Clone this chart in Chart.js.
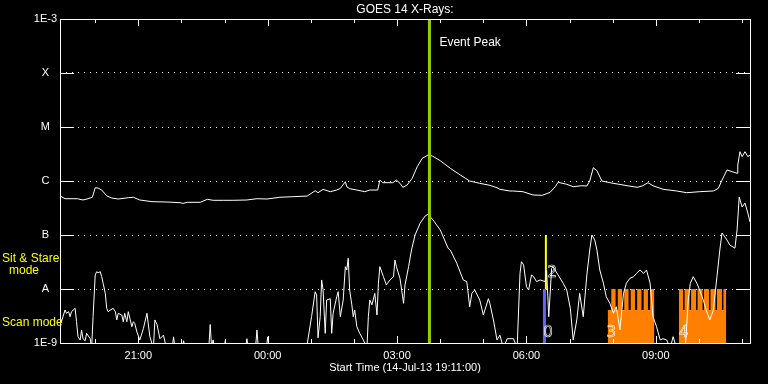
<!DOCTYPE html>
<html>
<head>
<meta charset="utf-8">
<script src="https://cdn.jsdelivr.net/npm/chart.js@4/dist/chart.umd.min.js"></script>
<style>
html, body { margin: 0; padding: 0; background: #000; }
canvas { display: block; }
</style>
</head>
<body>
<canvas id="xrayChart" width="768" height="384"></canvas>
<script>
// time axis: minutes after 14-Jul-13 19:11:00
const xTickMinutes = [49, 109, 169, 229, 289, 349, 409, 469, 529, 589, 649, 709, 769, 829, 889, 949];
const xTickLabels = ['', '21:00', '', '', '00:00', '', '', '03:00', '', '', '06:00', '', '', '09:00', '', ''];

// flux axis (W/m^2), GOES classes
const yTickValues = [1e-9, 1e-8, 1e-7, 1e-6, 1e-5, 1e-4, 1e-3];
const yTickLabels = ['1E-9', 'A', 'B', 'C', 'M', 'X', '1E-3'];

// long channel (1-8 A)
const longMin = [0, 7, 24, 32, 39, 45, 49, 53, 58, 65, 72, 81, 95, 102, 111, 128, 149, 167, 171, 177,
  195, 205, 213, 227, 241, 260, 274, 288, 306, 324, 344, 355, 359, 366, 376, 385, 390, 397, 399, 403,
  413, 424, 431, 442, 445, 449, 463, 468, 473, 477, 483, 490, 497, 504, 512, 518, 529, 543, 557, 570,
  584, 598, 608, 612, 626, 630, 644, 658, 671, 682, 689, 693, 705, 714, 726, 733, 737, 742, 747, 754,
  765, 789, 803, 811, 818, 825, 839, 858, 872, 890, 909, 916, 921, 928, 935, 942, 943, 946, 949, 953, 957, 960];
const longFlux = [5.3e-7, 4.7e-7, 4.7e-7, 4.45e-7, 4.7e-7, 5.0e-7, 7.5e-7, 7.4e-7, 6.8e-7, 5.3e-7, 4.84e-7, 4.64e-7, 4.9e-7, 5.0e-7, 4.45e-7, 4.14e-7, 4.08e-7, 3.97e-7, 3.85e-7, 4.03e-7,
  4.03e-7, 4.58e-7, 4.39e-7, 4.39e-7, 4.39e-7, 4.45e-7, 4.7e-7, 4.64e-7, 5.0e-7, 5.12e-7, 5.27e-7, 6.6e-7, 6.07e-7, 7.0e-7, 6.34e-7, 6.8e-7, 7.3e-7, 9.7e-7, 7.84e-7, 7.2e-7,
  6.8e-7, 6.34e-7, 6.8e-7, 6.8e-7, 1.04e-6, 9.3e-7, 9.3e-7, 1.04e-6, 9.06e-7, 7.64e-7, 8.44e-7, 1.12e-6, 1.84e-6, 2.63e-6, 3.03e-6, 2.9e-6, 2.38e-6, 1.72e-6, 1.29e-6, 1.0e-6,
  9.06e-7, 8.32e-7, 7.5e-7, 7.02e-7, 6.53e-7, 6.53e-7, 6.34e-7, 5.51e-7, 5.43e-7, 6.18e-7, 7.84e-7, 9.46e-7, 8.7e-7, 7.84e-7, 8.18e-7, 8.07e-7, 1.0e-6, 1.76e-6, 1.55e-6, 1.0e-6,
  9.3e-7, 8.18e-7, 7.64e-7, 8.18e-7, 9.3e-7, 8.18e-7, 7.02e-7, 6.53e-7, 6.07e-7, 6.34e-7, 6.53e-7, 7.32e-7, 1.04e-6, 1.6e-6, 1.49e-6, 1.39e-6, 1.98e-6, 3.49e-6, 2.82e-6, 3.49e-6, 2.82e-6, 3.03e-6];

// short channel (0.5-4 A)
const shortMin = [0, 2, 7, 9, 12, 14, 16, 21, 23, 25, 28, 30, 32, 35, 37, 42, 44, 46, 49, 51, 53, 56, 58, 60, 63, 65, 67, 70, 74, 77,
  79, 81, 86, 88, 90, 93, 95, 100, 102, 104, 107, 111, 116, 121, 125, 130, 132, 135, 139, 144, 148, 156, 158, 160, 170, 172, 174, 207, 209, 211,
  213, 215, 228, 230, 232, 258, 260, 262, 272, 274, 276, 287, 289, 291, 343, 350, 355, 357, 359, 362, 364, 366, 369, 371, 376, 378, 380, 385, 387, 390,
  394, 397, 399, 401, 403, 406, 408, 410, 413, 417, 422, 427, 429, 431, 434, 438, 441, 443, 445, 450, 454, 459, 464, 466, 468, 473, 478, 480, 485, 489,
  494, 501, 508, 512, 519, 529, 540, 543, 552, 561, 566, 570, 573, 577, 584, 589, 596, 598, 603, 608, 612, 617, 622, 631, 636, 640, 642, 645, 649, 652,
  656, 659, 663, 668, 675, 677, 680, 684, 686, 693, 700, 705, 710, 714, 719, 723, 728, 733, 737, 740, 744, 747, 751, 756, 760, 765, 770, 774, 779, 784,
  788, 793, 798, 802, 807, 812, 816, 821, 825, 830, 835, 839, 844, 849, 853, 858, 870, 874, 877, 881, 886, 890, 895, 899, 904, 909, 914, 918, 921, 928,
  932, 939, 942, 945, 949, 953, 957, 960];
const shortFlux = [3.07e-9, 2.48e-9, 4.08e-9, 3.55e-9, 3.8e-9, 3.07e-9, 3.8e-9, 4.39e-9, 2.48e-9, 1.31e-9, 1.14e-9, 1.74e-9, 1.2e-9, 1.1e-9, 1.51e-9, 1.2e-9, 8e-10, 3.07e-9, 1.82e-8, 2.09e-8, 2.0e-8, 2.09e-8, 1.69e-8, 1.28e-8, 8.3e-9, 4.39e-9, 3.8e-9, 4.08e-9, 4.39e-9, 3.8e-9,
  2.67e-9, 3.55e-9, 3.3e-9, 2.48e-9, 3.55e-9, 2.48e-9, 3.8e-9, 2.0e-9, 2.48e-9, 2.3e-9, 1.6e-9, 1.14e-9, 1.85e-9, 3.55e-9, 1.31e-9, 8e-10, 2.67e-9, 2.2e-9, 1.2e-9, 1.4e-9, 8e-10, 8e-10, 1.3e-9, 8e-10, 8e-10, 1.1e-9, 8e-10, 8e-10, 2.2e-9, 8e-10,
  1.14e-9, 8e-10, 8e-10, 1.1e-9, 8e-10, 8e-10, 1.2e-9, 8e-10, 8e-10, 1.74e-9, 8e-10, 8e-10, 1.3e-9, 8e-10, 8e-10, 3.07e-9, 8.9e-9, 7.74e-9, 1.25e-9, 3.07e-9, 1.47e-8, 9.57e-9, 1.51e-9, 6.25e-9, 6.6e-9, 1.51e-9, 3.55e-9, 7.2e-9, 8.9e-9, 3.07e-9,
  6.25e-9, 2.59e-8, 2.25e-8, 3.71e-8, 9.57e-9, 5.1e-9, 3.07e-9, 4.08e-9, 2.0e-9, 1.51e-9, 1.14e-9, 8e-10, 3.07e-9, 6.25e-9, 5.1e-9, 8.3e-9, 3.3e-9, 1.28e-8, 2.59e-8, 1.69e-8, 1.19e-8, 1.47e-8, 1.69e-8, 3.44e-8, 2.59e-8, 1.58e-8, 5.43e-9, 1.19e-8, 2.59e-8, 5.27e-8,
  1.0e-7, 1.65e-7, 2.25e-7, 2.42e-7, 1.9e-7, 1.24e-7, 5.67e-8, 5.27e-8, 3.0e-8, 1.47e-8, 1.37e-8, 4.7e-9, 8.3e-9, 9.57e-9, 6.25e-9, 3.3e-9, 6.6e-9, 5.43e-9, 2.67e-9, 1.14e-9, 1.4e-9, 8e-10, 1.2e-9, 1.2e-9, 8e-10, 1.95e-8, 3.2e-8, 2.8e-8, 1.1e-8, 9.57e-9,
  1.82e-8, 1.69e-8, 1.37e-8, 1.47e-8, 1.37e-8, 2.25e-8, 3.07e-9, 2.42e-8, 2.59e-8, 1.82e-8, 1.28e-8, 9.57e-9, 4.39e-9, 1.14e-9, 2.67e-9, 8.3e-9, 3.07e-9, 1.82e-8, 5.27e-8, 1.0e-7, 8.07e-8, 5.27e-8, 2.25e-8, 1.28e-8, 7.2e-9, 5.43e-9, 3.55e-9, 4.7e-9, 1.74e-9, 8.3e-9,
  1.28e-8, 1.58e-8, 1.69e-8, 1.95e-8, 2.25e-8, 1.95e-8, 2.25e-8, 1.28e-8, 3.07e-9, 2.0e-9, 1.14e-9, 1.2e-9, 1.14e-9, 8e-10, 1.31e-9, 8e-10, 8e-10, 6.25e-9, 1.28e-8, 1.69e-8, 1.28e-8, 9.57e-9, 6.25e-9, 4.08e-9, 2.67e-9, 4.08e-9, 1.69e-8, 5.27e-8, 1.09e-7, 8.07e-8,
  6.5e-8, 5.7e-8, 1.24e-7, 5.06e-7, 3.3e-7, 3.9e-7, 2.55e-7, 1.74e-7];

// orange observing blocks (scan mode floor, sit & stare teeth)
const scan3Min = [762, 767, 773, 776, 782, 785, 791, 794, 800, 803, 809, 812, 818, 821, 827];
const scan3Flux = [4.1e-9, 1e-8, 4.1e-9, 1e-8, 4.1e-9, 1e-8, 4.1e-9, 1e-8, 4.1e-9, 1e-8, 4.1e-9, 1e-8, 4.1e-9, 1e-8, 1e-8];
const scan4Min = [861, 867, 869, 876, 878, 885, 887, 894, 896, 903, 905, 912, 914, 921, 923, 927];
const scan4Flux = [1e-8, 4.1e-9, 1e-8, 4.1e-9, 1e-8, 4.1e-9, 1e-8, 4.1e-9, 1e-8, 4.1e-9, 1e-8, 4.1e-9, 1e-8, 4.1e-9, 1e-8, 1e-8];

// markers
const eventPeakMin = 514;
const stareLineMin = 676;
const stareLineFlux = [1e-7, 1e-8];
const scanBarMin = 674;
const scanBarFlux = [1e-8, 1e-9];
const blockLabels = ['0', '2', '3', '4'];
const blockLabelMin = [679, 685, 767, 868];
const blockLabelFlux = [1.55e-9, 2.0e-8, 1.55e-9, 1.55e-9];

const FONT = '"Liberation Sans", Arial, sans-serif';

function pts(xs, ys) {
  return xs.map((x, i) => ({ x: x, y: ys[i] }));
}

const goesDecor = {
  id: 'goesDecor',
  afterDatasetsDraw(chart) {
    const { ctx, chartArea: { left, right, top, bottom }, scales: { x, y } } = chart;
    ctx.save();
    ctx.strokeStyle = '#fff';
    ctx.lineWidth = 1;
    ctx.strokeRect(left + 0.5, top + 0.5, right - left, bottom - top);
    ctx.beginPath();
    xTickMinutes.forEach((m, i) => {
      const px = Math.round(x.getPixelForValue(m)) + 0.5;
      const len = xTickLabels[i] ? 7 : 4;
      ctx.moveTo(px, top); ctx.lineTo(px, top + len);
      ctx.moveTo(px, bottom); ctx.lineTo(px, bottom - len);
    });
    yTickValues.forEach(v => {
      const py = Math.round(y.getPixelForValue(v)) + 0.5;
      ctx.moveTo(left, py); ctx.lineTo(left + 14, py);
      ctx.moveTo(right - 14, py); ctx.lineTo(right, py);
    });
    ctx.stroke();

    // block numbers, thin outline digits
    ctx.font = '15px "DejaVu Sans", sans-serif';
    ctx.textAlign = 'center';
    ctx.textBaseline = 'middle';
    ctx.lineWidth = 0.6;
    blockLabels.forEach((t, i) => {
      ctx.strokeText(t, x.getPixelForValue(blockLabelMin[i]), y.getPixelForValue(blockLabelFlux[i]));
    });
    ctx.restore();
  },
  afterDraw(chart) {
    const { ctx, chartArea: { left, right, top, bottom }, scales: { x } } = chart;
    const cx = (left + right) / 2;
    ctx.save();
    ctx.fillStyle = '#fff';
    ctx.textBaseline = 'middle';
    ctx.textAlign = 'center';
    ctx.font = '12px ' + FONT;
    ctx.fillText('GOES 14 X-Rays:', cx, 10);
    ctx.font = '11px ' + FONT;
    ctx.fillText('Start Time (14-Jul-13 19:11:00)', cx, 368);
    ctx.textAlign = 'left';
    ctx.font = '12px ' + FONT;
    ctx.fillText('Event Peak', x.getPixelForValue(eventPeakMin) + 10, top + 24);
    ctx.fillStyle = '#ffff00';
    ctx.fillText('Sit & Stare', 2, 259);
    ctx.fillText('Scan mode', 2, 323);
    ctx.textAlign = 'center';
    ctx.fillText('mode', 24, 271);
    ctx.restore();
  }
};

new Chart(document.getElementById('xrayChart'), {
  type: 'line',
  data: {
    datasets: [
      { data: [{ x: eventPeakMin, y: 1e-3 }, { x: eventPeakMin, y: 1e-9 }], borderColor: '#99cc00', borderWidth: 3 },
      { data: pts(longMin, longFlux), borderColor: '#ffffff', borderWidth: 1 },
      { data: pts(shortMin, shortFlux), borderColor: '#ffffff', borderWidth: 1 },
      { data: pts([stareLineMin, stareLineMin], stareLineFlux), borderColor: '#ffff00', borderWidth: 2 },
      { data: pts([scanBarMin, scanBarMin], scanBarFlux), borderColor: '#6464f0', borderWidth: 3 },
      { data: pts(scan3Min, scan3Flux), stepped: true, fill: 'start', backgroundColor: '#ff8000', borderWidth: 0, borderColor: '#ff8000' },
      { data: pts(scan4Min, scan4Flux), stepped: true, fill: 'start', backgroundColor: '#ff8000', borderWidth: 0, borderColor: '#ff8000' }
    ]
  },
  options: {
    responsive: false,
    animation: false,
    devicePixelRatio: 1,
    layout: { padding: { top: 19, right: 18, left: 0, bottom: 0 } },
    elements: { point: { radius: 0 }, line: { tension: 0 } },
    plugins: { legend: { display: false }, tooltip: { enabled: false }, title: { display: false } },
    scales: {
      x: {
        type: 'linear',
        min: 0,
        max: 960,
        afterBuildTicks: s => { s.ticks = xTickMinutes.map(v => ({ value: v })); },
        afterFit: s => { s.height = 41; },
        grid: { display: false, drawTicks: false },
        border: { display: false },
        ticks: {
          color: '#fff',
          font: { family: FONT, size: 11 },
          padding: 6,
          maxRotation: 0,
          autoSkip: false,
          callback: v => xTickLabels[xTickMinutes.indexOf(v)] || ''
        }
      },
      y: {
        type: 'logarithmic',
        min: 1e-9,
        max: 1e-3,
        afterBuildTicks: s => { s.ticks = yTickValues.map(v => ({ value: v })); },
        afterFit: s => { s.width = 60; },
        grid: { color: '#ffffff', lineWidth: 1, drawTicks: false },
        border: { display: false, dash: [1, 5] },
        ticks: {
          color: '#fff',
          font: { family: FONT, size: 11 },
          padding: 3,
          crossAlign: 'center',
          autoSkip: false,
          callback: v => {
            const i = yTickValues.findIndex(t => Math.abs(Math.log10(t) - Math.log10(v)) < 0.01);
            return i >= 0 ? yTickLabels[i] : '';
          }
        }
      }
    }
  },
  plugins: [goesDecor]
});
</script>
</body>
</html>
